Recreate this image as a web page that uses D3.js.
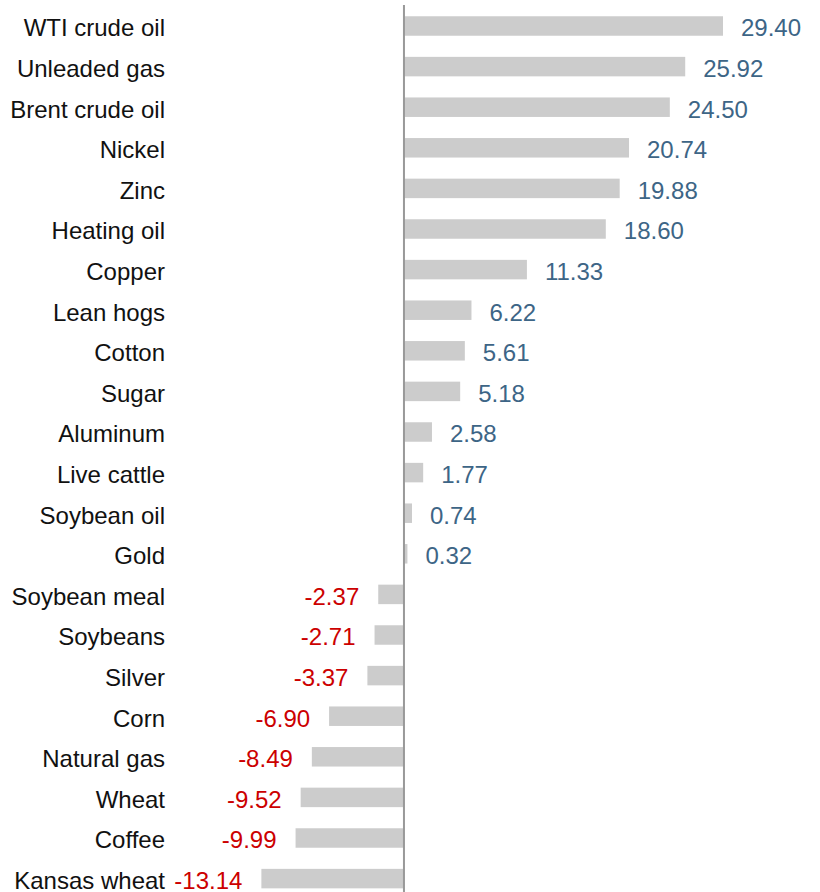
<!DOCTYPE html>
<html>
<head>
<meta charset="utf-8">
<script src="https://cdn.jsdelivr.net/npm/d3@7"></script>
<style>
  html, body { margin: 0; padding: 0; background: #fff; }
  svg { display: block; }
  text { font-family: "Liberation Sans", Arial, sans-serif; }
</style>
</head>
<body>
<svg id="chart" width="820" height="892"></svg>
<script>
// Commodity returns (%)
const commodities = [
  "WTI crude oil", "Unleaded gas", "Brent crude oil", "Nickel", "Zinc",
  "Heating oil", "Copper", "Lean hogs", "Cotton", "Sugar", "Aluminum",
  "Live cattle", "Soybean oil", "Gold", "Soybean meal", "Soybeans",
  "Silver", "Corn", "Natural gas", "Wheat", "Coffee", "Kansas wheat"
];
const returns = [
  29.40, 25.92, 24.50, 20.74, 19.88, 18.60, 11.33, 6.22, 5.61, 5.18, 2.58,
  1.77, 0.74, 0.32, -2.37, -2.71, -3.37, -6.90, -8.49, -9.52, -9.99, -13.14
];

const data = commodities.map((name, i) => ({ name, value: returns[i] }));

const svg = d3.select("#chart");
const rowStep = 40.6;
const plotTop = 5.7;
const fontSize = 24;

const y = d3.scaleBand()
  .domain(commodities)
  .range([plotTop, plotTop + commodities.length * rowStep])
  .paddingInner(0.52)
  .paddingOuter(0.26);

const x = d3.scaleLinear()
  .domain([-15, 30])
  .range([241.2, 729.5]);

// Bars
svg.append("g")
  .selectAll("rect")
  .data(data)
  .join("rect")
  .attr("x", d => x(Math.min(0, d.value)))
  .attr("y", d => y(d.name))
  .attr("width", d => Math.abs(x(d.value) - x(0)))
  .attr("height", y.bandwidth())
  .attr("fill", "#cccccc");

// Zero axis line
svg.append("line")
  .attr("x1", x(0)).attr("x2", x(0))
  .attr("y1", 5).attr("y2", 892)
  .attr("stroke", "#999999")
  .attr("stroke-width", 2);

// Category labels
svg.append("g")
  .selectAll("text")
  .data(data)
  .join("text")
  .attr("x", 165)
  .attr("y", d => y(d.name) + y.bandwidth() / 2)
  .attr("dy", "0.43em")
  .attr("text-anchor", "end")
  .attr("font-size", fontSize)
  .attr("fill", "#111111")
  .text(d => d.name);

// Value labels
svg.append("g")
  .selectAll("text")
  .data(data)
  .join("text")
  .attr("x", d => d.value >= 0 ? x(d.value) + 18 : x(d.value) - 19)
  .attr("y", d => y(d.name) + y.bandwidth() / 2)
  .attr("dy", "0.43em")
  .attr("text-anchor", d => d.value >= 0 ? "start" : "end")
  .attr("font-size", fontSize)
  .attr("fill", d => d.value >= 0 ? "#3d6586" : "#cc0000")
  .text(d => d.value.toFixed(2));
</script>
</body>
</html>
